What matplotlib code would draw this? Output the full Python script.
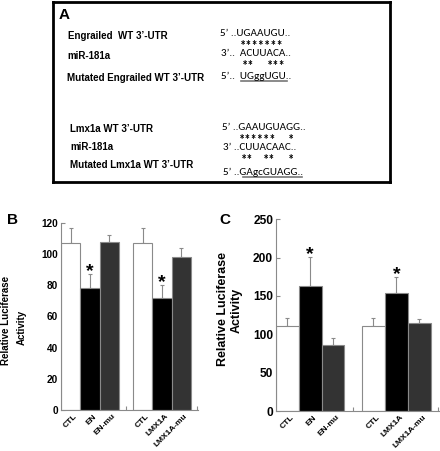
import matplotlib
matplotlib.use("Agg")
import matplotlib.pyplot as plt
from matplotlib.lines import Line2D
import numpy as np

# ---- data ----
categories = ["CTL", "EN", "EN-mu", "CTL", "LMX1A", "LMX1A-mu"]
b_values = [107, 78, 108, 107, 72, 98]
b_errors = [10, 9, 4, 10, 8, 6]
b_sig = [False, True, False, False, True, False]
c_values = [111, 163, 86, 111, 154, 115]
c_errors = [10, 38, 9, 10, 21, 5]
c_sig = [False, True, False, False, True, False]
b_yticks = [0, 20, 40, 60, 80, 100, 120]
c_yticks = [0, 50, 100, 150, 200, 250]
bar_colors = ["white", "black", "#333333", "white", "black", "#333333"]

W, H = 440, 451
fig = plt.figure(figsize=(W / 100, H / 100), dpi=100)
LAB = ["Liberation Sans", "DejaVu Sans"]
SEQ = ["Carlito", "Liberation Sans", "DejaVu Sans"]


def fx(x):
    return x / W


def fy(y):
    return 1 - y / H


def ftext(x, y, s, **kw):
    kw.setdefault("va", "center")
    kw.setdefault("ha", "left")
    fig.text(fx(x), fy(y), s, **kw)


# ---- panel A box ----
axA = fig.add_axes([fx(53), fy(182), fx(390) - fx(53), fy(2) - fy(182)])
axA.set_xticks([])
axA.set_yticks([])
for sp in axA.spines.values():
    sp.set_linewidth(2)
    sp.set_color("black")

ftext(59, 15, "A", family=LAB, fontweight="bold", fontsize=11)
lab_kw = dict(family=LAB, fontweight="bold", fontsize=7.0)
ftext(68, 36, "Engrailed  WT 3’-UTR", **lab_kw)
ftext(67, 56, "miR-181a", **lab_kw)
ftext(67, 78, "Mutated Engrailed WT 3’-UTR", **lab_kw)
ftext(70, 129, "Lmx1a WT 3’-UTR", **lab_kw)
ftext(70, 147, "miR-181a", **lab_kw)
ftext(70, 165, "Mutated Lmx1a WT 3’-UTR", **lab_kw)

seq_kw = dict(family=SEQ, fontsize=8.0)
star_kw = dict(family=SEQ, fontweight="bold", fontsize=9.0, va="baseline")


def stars(x, y, s):
    ftext(x, y + 7.0, s, **star_kw)


ftext(220, 33, "5’ ..UGAAUGU..", **seq_kw)
stars(240, 43, "*******")
ftext(221, 54, "3’..  ACUUACA..", **seq_kw)
stars(242, 63, "**")
stars(267, 63, "***")
ftext(221, 76, "5’..  UGggUGU..", **seq_kw)
fig.add_artist(Line2D([fx(241), fx(287)], [fy(80.5), fy(80.5)], color="#777777", lw=1.2))

ftext(222, 127, "5’ ..GAAUGUAGG..", **seq_kw)
stars(239, 137, "******")
stars(288, 137, "*")
ftext(223, 147, "3’ ..CUUACAAC..", **seq_kw)
stars(241, 157, "**")
stars(263, 157, "**")
stars(288, 157, "*")
ftext(223, 172, "5’ ..GAgcGUAGG..", **seq_kw)
fig.add_artist(Line2D([fx(243), fx(302)], [fy(176.5), fy(176.5)], color="#777777", lw=1.2))


# ---- bar panels ----
def bar_panel(rect, values, errors, sig, yticks, ymax, fs, xfs, gap):
    ax = fig.add_axes(rect)
    n = len(values)
    pos = np.array([0.5 + i + (i // 3) * gap for i in range(n)])
    ax.bar(pos, values, width=1.0, color=bar_colors, edgecolor="#8a8a8a", linewidth=0.8, zorder=2)
    ax.errorbar(pos, values, yerr=[np.zeros(n), errors], fmt="none", ecolor="#8a8a8a",
                elinewidth=0.8, capsize=1.5, capthick=0.8, zorder=1)
    for p, v, e, s in zip(pos, values, errors, sig):
        if s:
            ax.annotate("*", (p, v + e), xytext=(0, -1.5), textcoords="offset points",
                        ha="center", va="baseline", family=LAB, fontweight="bold", fontsize=14)
    xend = 6 + gap + 0.37
    ax.set_xlim(0, xend)
    ax.set_ylim(0, ymax)
    ax.set_yticks(yticks)
    ax.set_yticklabels([str(t) for t in yticks], family=LAB, fontweight="bold", fontsize=fs)
    ax.tick_params(axis="y", direction="in", length=3, width=0.8, color="#8a8a8a", pad=2)
    ax.set_xticks(pos + 0.15)
    ax.set_xticklabels(categories, rotation=45, ha="right", rotation_mode="anchor",
                       family=LAB, fontweight="bold", fontsize=xfs)
    ax.tick_params(axis="x", which="major", length=0, pad=2)
    ax.set_xticks([3 + gap / 2, xend - 0.05], minor=True)
    ax.tick_params(axis="x", which="minor", direction="in", length=3, width=0.8, color="#8a8a8a")
    for s in ["top", "right"]:
        ax.spines[s].set_visible(False)
    for s in ["left", "bottom"]:
        ax.spines[s].set_color("#8a8a8a")
        ax.spines[s].set_linewidth(0.8)
    ax.patch.set_alpha(0)
    return ax


bar_panel([fx(61), fy(410), fx(198) - fx(61), fy(223) - fy(410)],
          b_values, b_errors, b_sig, b_yticks, 120, 7.2, 6.0, 0.73)
bar_panel([fx(276), fy(411), fx(439) - fx(276), fy(219.3) - fy(411)],
          c_values, c_errors, c_sig, c_yticks, 250, 8.6, 6.0, 0.77)

ftext(7, 220, "B", family=LAB, fontweight="bold", fontsize=11)
ftext(219, 220, "C", family=LAB, fontweight="bold", fontsize=11)

ylab = dict(family=LAB, fontweight="bold", rotation=90, ha="center", va="center")
ftext(6, 320, "Relative Luciferase", fontsize=7.0, **ylab)
ftext(22, 327, "Activity", fontsize=7.0, **ylab)
ftext(223, 309, "Relative Luciferase", fontsize=9.0, **ylab)
ftext(237, 310, "Activity", fontsize=9.0, **ylab)

fig.savefig("out.png", dpi=100)
